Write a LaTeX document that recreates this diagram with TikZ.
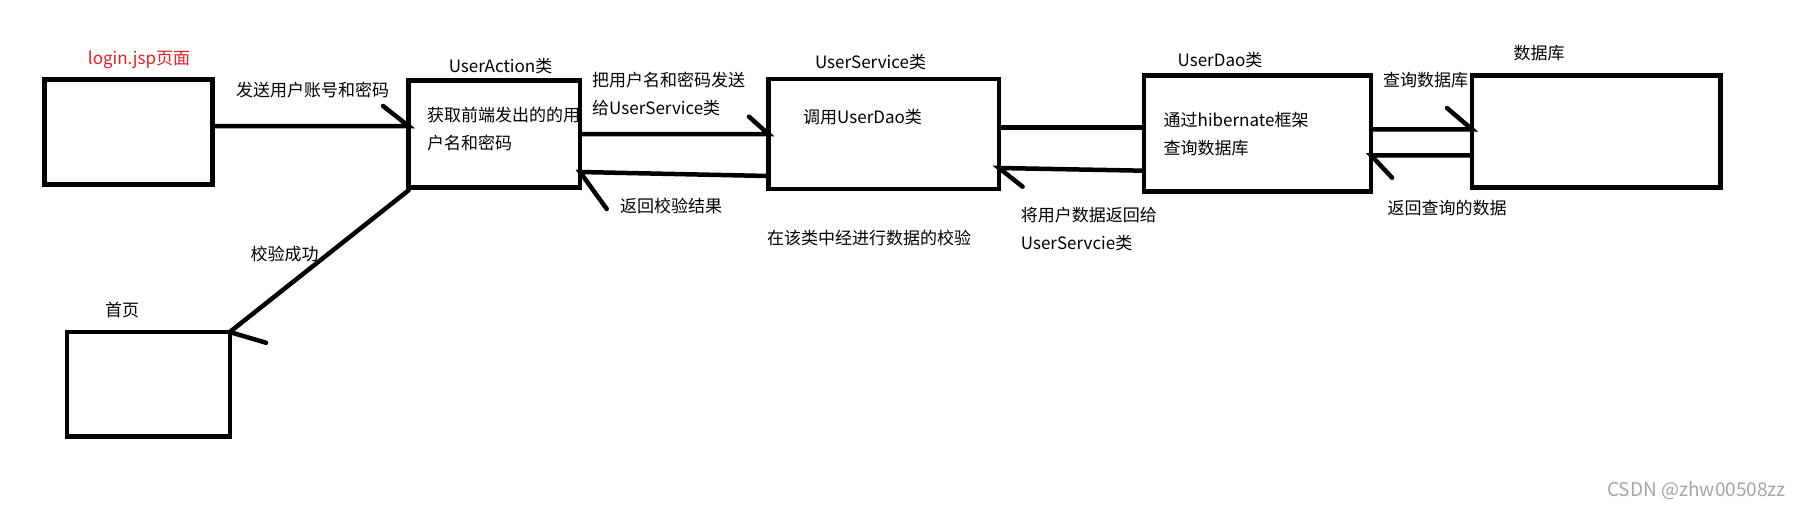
\documentclass[tikz,border=0pt]{standalone}
\usepackage{fontspec}
\setmainfont{Noto Sans CJK SC}
\usepackage{tikz}
\definecolor{paintred}{RGB}{237,28,36}
\definecolor{markgray}{RGB}{165,165,165}

\begin{document}
\begin{tikzpicture}[x=1pt, y=-1pt,
    box/.style={draw, line width=4.5pt, inner sep=0pt, outer sep=0pt},
    conn/.style={line width=4.5pt, line cap=round},
    txt/.style={inner sep=0pt, font=\fontsize{17}{28}\selectfont, align=left}]
      \useasboundingbox (0,0) rectangle (1802,509);
      % Boxes: page, action, service, dao, database, home page
      \node[box, minimum width=167.6, minimum height=105] (login) at (128.5,132.2) {};
      \node[box, minimum width=171.5, minimum height=106.6] (ua) at (494.3,134) {};
      \node[box, minimum width=230.6, minimum height=110.3] (us) at (883.7,133.9) {};
      \node[box, minimum width=227.3, minimum height=116] (ud) at (1257.4,133.3) {};
      \node[box, minimum width=248.4, minimum height=112] (db) at (1596.2,131.3) {};
      \node[box, minimum width=162.7, minimum height=104.3] (home) at (148.4,384.2) {};
      % Titles above the boxes
      \node[txt, text=paintred] (loginname) at (139,60) {login.jsp页面};
      \node[txt] (uaname) at (500.5,65.7) {UserAction类};
      \node[txt] (usname) at (870.5,62.3) {UserService类};
      \node[txt] (udname) at (1220,60) {UserDao类};
      \node[txt] (dbname) at (1539,53.3) {数据库};
      \node[txt] (homename) at (122,310) {首页};
      % Texts inside the boxes
      \node[txt, anchor=west] (uatext) at (427,129) {获取前端发出的的用\\户名和密码};
      \node[txt, anchor=west] (ustext) at (803,116.7) {调用UserDao类};
      \node[txt, anchor=west] (udtext) at (1163.5,134.2) {通过hibernate框架\\查询数据库};
      % Labels of the connectors
      \node[txt] (sendlbl) at (312.5,90) {发送用户账号和密码};
      \node[txt, anchor=west] (passlbl) at (592,94) {把用户名和密码发送\\给UserService类};
      \node[txt] (backlbl) at (671,206) {返回校验结果};
      \node[txt] (checklbl) at (869,238) {在该类中经进行数据的校验};
      \node[txt, anchor=west] (retlbl) at (1020.7,229) {将用户数据返回给\\UserServcie类};
      \node[txt] (querylbl) at (1425.5,80) {查询数据库};
      \node[txt] (resultlbl) at (1447,208.3) {返回查询的数据};
      \node[txt] (oklbl) at (284.5,254) {校验成功};
      % Connectors, each with a single barb at its head
      \draw[conn] (login.east |- 0,126) -- (ua.west |- 0,126) -- ++(-25.5,-20);
      \draw[conn] (ua.east |- 0,134) -- (us.west |- 0,134) -- ++(-19.4,-17.3);
      \draw[conn] (us.west |- 0,176) -- (ua.east |- 0,172) -- ++(26.7,37);
      \draw[conn] (us.east |- 0,127.3) -- (ud.west |- 0,127.3);
      \draw[conn] (ud.west |- 0,170.7) -- (us.east |- 0,168) -- ++(23.6,18.7);
      \draw[conn] (ud.east |- 0,129.3) -- (db.west |- 0,129.3) -- ++(-25,-21.3);
      \draw[conn] (db.west |- 0,155.3) -- (ud.east |- 0,155.3) -- ++(21,22.4);
      \draw[conn] ([yshift=-3]ua.south west) -- (home.north east) -- ++(36.3,10.7);
      % Watermark
      \node[inner sep=0pt, anchor=east, text=markgray, font=\fontsize{19}{22}\selectfont] (mark) at (1786,491) {CSDN @zhw00508zz};
\end{tikzpicture}
\end{document}
